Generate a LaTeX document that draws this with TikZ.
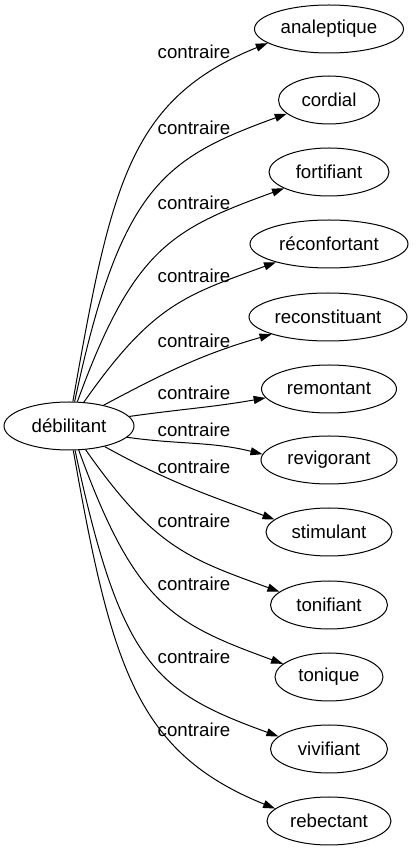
\documentclass[tikz,border=0pt]{standalone}
\usepackage{fontspec}
\setmainfont{Liberation Sans}
\usetikzlibrary{shapes,arrows.meta}

\begin{document}
\begin{tikzpicture}[x=0.75pt,y=0.75pt,
  mot/.style={draw,ellipse,line width=0.75pt,inner sep=0pt,minimum height=36pt,font=\fontsize{14}{17}\selectfont},
  rel/.style={inner sep=0pt,font=\fontsize{14}{17}\selectfont},
  fl/.style={line width=0.75pt,-{Triangle[length=9pt,width=6pt]}}]
\useasboundingbox (0,0) rectangle (416,851);
\node[mot,minimum width=97.5pt] (debilitant) at (69,425) {débilitant};
\node[mot,minimum width=111.75pt] (analeptique) at (329,822) {analeptique};
\node[mot,minimum width=75.75pt] (cordial) at (329,751) {cordial};
\node[mot,minimum width=90pt] (fortifiant) at (329,679) {fortifiant};
\node[mot,minimum width=118.5pt] (reconfortant) at (329,607) {réconfortant};
\node[mot,minimum width=118.5pt] (reconstituant) at (328,534) {reconstituant};
\node[mot,minimum width=101.25pt] (remontant) at (329,462) {remontant};
\node[mot,minimum width=102pt] (revigorant) at (329,391) {revigorant};
\node[mot,minimum width=94.5pt] (stimulant) at (329,319) {stimulant};
\node[mot,minimum width=87.75pt] (tonifiant) at (329,246) {tonifiant};
\node[mot,minimum width=81pt] (tonique) at (329,174) {tonique};
\node[mot,minimum width=87.75pt] (vivifiant) at (329,102) {vivifiant};
\node[mot,minimum width=93pt] (rebectant) at (329,30) {rebectant};
% antonymes au-dessus
\draw[fl] (debilitant.81) to[out=80,in=202,out distance=165pt,in distance=112pt] (analeptique.193);
\draw[fl] (debilitant.77) to[out=78,in=200,out distance=165pt,in distance=98pt] (cordial.198);
\draw[fl] (debilitant.71) to[out=70,in=200,out distance=123pt,in distance=89pt] (fortifiant.200);
\draw[fl] (debilitant.58) to[out=55,in=200,out distance=90pt,in distance=72pt] (reconfortant.199);
\draw[fl] (debilitant.31) to[out=28,in=196] (reconstituant.197);
\draw[fl] (debilitant.9) to[out=8,in=190] (remontant.188);
% antonymes en dessous
\draw[fl] (debilitant.-11) to[out=-8,in=166] (revigorant.175);
\draw[fl] (debilitant.-30) to[out=-29,in=160] (stimulant.167);
\draw[fl] (debilitant.-55) to[out=-55,in=160,out distance=90pt,in distance=72pt] (tonifiant.165);
\draw[fl] (debilitant.-68) to[out=-70,in=160,out distance=123pt,in distance=89pt] (tonique.164);
\draw[fl] (debilitant.-76) to[out=-78,in=160,out distance=165pt,in distance=98pt] (vivifiant.166);
\draw[fl] (debilitant.-80) to[out=-80,in=158,out distance=165pt,in distance=112pt] (rebectant.167);
\path (194,799) node[rel] (c1) {contraire};
\path (194,723) node[rel] (c2) {contraire};
\path (194,648) node[rel] (c3) {contraire};
\path (194,575) node[rel] (c4) {contraire};
\path (194,510) node[rel] (c5) {contraire};
\path (194,458) node[rel] (c6) {contraire};
\path (194,421) node[rel] (c7) {contraire};
\path (194,384) node[rel] (c8) {contraire};
\path (194,330) node[rel] (c9) {contraire};
\path (194,267) node[rel] (c10) {contraire};
\path (194,194) node[rel] (c11) {contraire};
\path (194,121) node[rel] (c12) {contraire};
\end{tikzpicture}
\end{document}
